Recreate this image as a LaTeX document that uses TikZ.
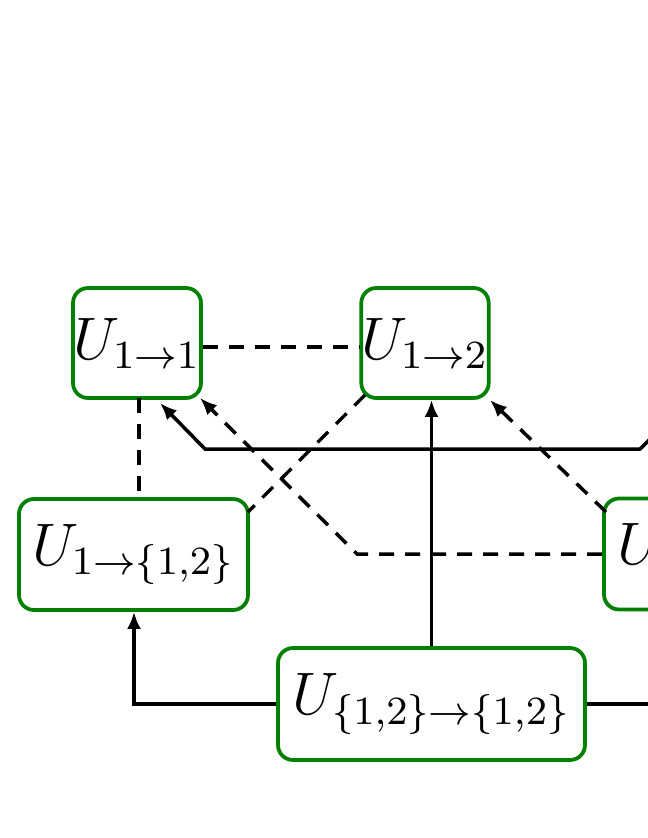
\documentclass[tikz,border=0pt]{standalone}
\usetikzlibrary{arrows.meta}
\definecolor{bgreen}{RGB}{0,128,0}
\begin{document}
\begin{tikzpicture}[x=0.2pt,y=-0.2pt,
  box/.style={draw=bgreen,line width=0.75pt,rounded corners=3pt,inner sep=0pt,font=\fontsize{11.5}{14}\selectfont},
  conn/.style={line width=0.7pt},
  dconn/.style={line width=0.7pt,dash pattern=on 3pt off 2.2pt},
  tip/.style={-{Latex[length=3.4pt,width=2.8pt]}}]
\useasboundingbox (0,0) rectangle (648,838);
\clip (0,0) rectangle (648,838);
\node[box,minimum width=25.6pt,minimum height=22pt] (u11) at (137,343) {$U_{1\to1}$};
\node[box,minimum width=25.2pt,minimum height=22pt] (u12) at (425,343) {$U_{1\to2}$};
\node[box,minimum width=45.8pt,minimum height=22.2pt] (u1s) at (133.5,554.5) {$U_{1\to\{1,2\}}$};
\node[box,minimum width=61.4pt,minimum height=22.4pt] (uss) at (431.5,704) {$U_{\{1,2\}\to\{1,2\}}$};
\node[box,minimum width=45.8pt,minimum height=22.2pt] (u2s) at (718.5,554) {$U_{2\to\{1,2\}}$};
\coordinate (a1) at (205,449);
\coordinate (a2) at (640,449);
\coordinate (a3) at (700,390);
\coordinate (b1) at (357,554);
\coordinate (c1) at (134,704);
\coordinate (d1) at (700,704);
% dashed
\draw[dconn] (u11.east |- 0,347) -- (u12.west |- 0,347);
\draw[dconn] (139,398) -- (139,499);
\draw[dconn] (365,395) -- (248,512);
\draw[dconn,tip] (u2s.west) -- (b1) -- (200,398);
\draw[dconn,tip] (606,512) -- (490,400);
% solid
\draw[conn,tip] (a3) -- (a2) -- (a1) -- (160,403);
\draw[conn,tip] (uss.north) -- (uss.north |- u12.south);
\draw[conn,tip] (uss.west) -- (c1) -- (u1s.south -| c1);
\draw[conn] (uss.east) -- (d1);
\end{tikzpicture}
\end{document}
